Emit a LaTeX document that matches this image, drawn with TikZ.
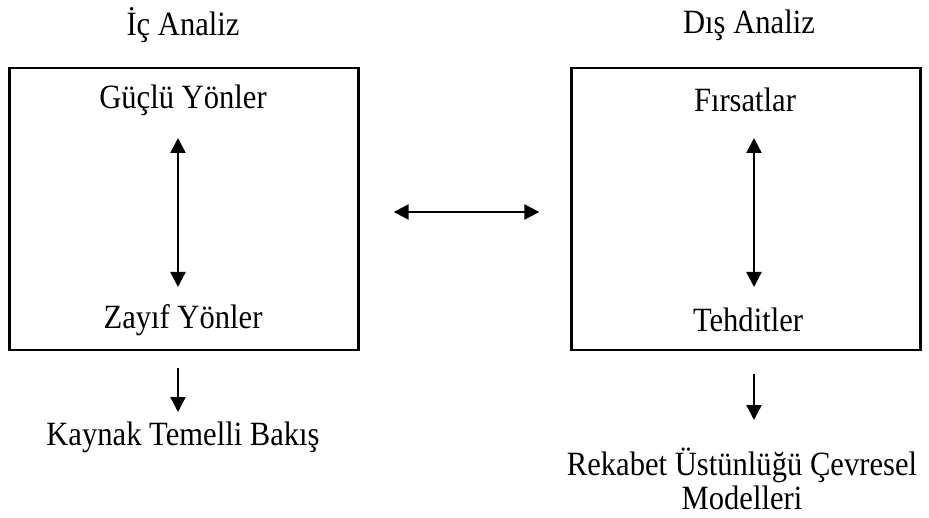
\documentclass[tikz,border=0pt]{standalone}
\usepackage{fontspec}
\setmainfont{Liberation Serif}[FakeStretch=0.9]
\usepackage{tikz}
\usetikzlibrary{arrows.meta,positioning}

\tikzset{
  lbl/.style={font=\fontsize{34bp}{34bp}\selectfont, inner sep=0pt, align=center},
  panel/.style={draw, line width=2.4bp, minimum width=349bp, minimum height=282bp, inner sep=0pt},
  arr/.style={line width=2.4bp, -{Triangle[length=15bp,width=15bp]}},
  dblarr/.style={line width=2.4bp, {Triangle[length=15bp,width=15bp]}-{Triangle[length=15bp,width=15bp]}}
}

\begin{document}
\begin{tikzpicture}[x=1bp,y=-1bp]
\useasboundingbox (0,0) rectangle (929,518);
% the two panels
\node (Ic) at (184,209)[panel] {};
\node (Dis) at (746,209)[panel] {};
% headings
\node (IcT) at (183,25)[lbl] {İç Analiz};
\node (DisT) at (749,25)[lbl] {Dış Analiz};
% inside the panels
\node (Guclu) at (183,100)[lbl] {Güçlü Yönler};
\node (Zayif) at (183,320)[lbl] {Zayıf Yönler};
\node (Firsat) at (745,100)[lbl] {Fırsatlar};
\node (Tehdit) at (748,320)[lbl] {Tehditler};
% below the panels
\node (Kaynak) at (183,437)[lbl] {Kaynak Temelli Bakış};
\node (Rekabet) at (742,479)[lbl] {Rekabet Üstünlüğü Çevresel\\Modelleri};
\coordinate (g1) at (178,138);
\coordinate (z1) at (178,287);
\coordinate (f1) at (754,138);
\coordinate (t1) at (754,287);
\draw [dblarr] (g1) -- (z1);
\draw [dblarr] (f1) -- (t1);
\draw [dblarr,shorten <=34bp,shorten >=31bp] ([yshift=-3bp]Ic.east) -- ([yshift=-3bp]Dis.west);
\coordinate (k1) at (178,368);
\coordinate (k2) at (178,412);
\coordinate (r1) at (754,374);
\coordinate (r2) at (754,420);
\draw [arr] (k1) -- (k2);
\draw [arr] (r1) -- (r2);
\end{tikzpicture}
\end{document}
